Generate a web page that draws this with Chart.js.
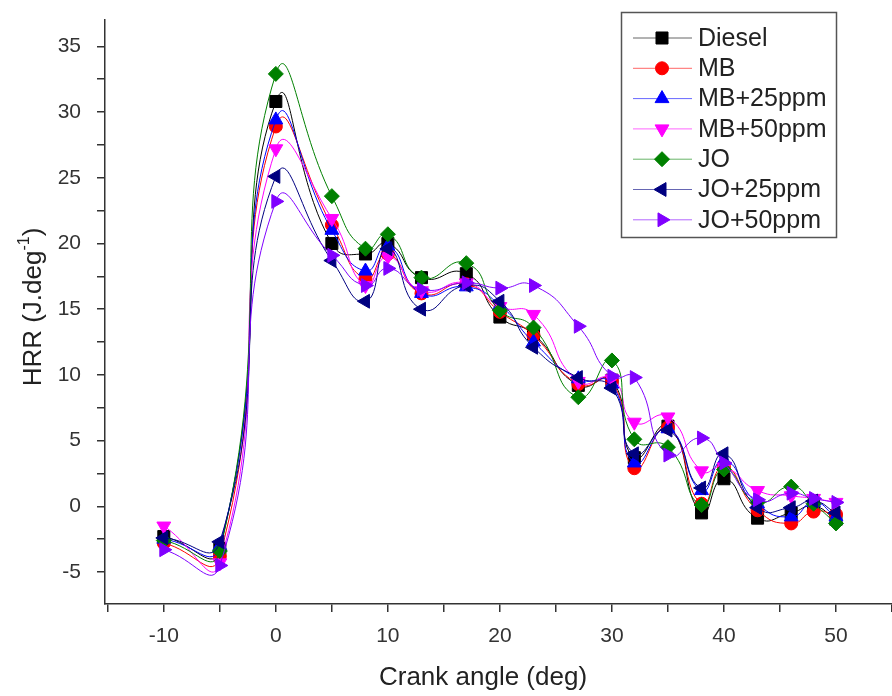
<!DOCTYPE html>
<html>
<head>
<meta charset="utf-8">
<script src="https://cdn.jsdelivr.net/npm/chart.js@4/dist/chart.umd.min.js"></script>
<style>
    html, body { margin: 0; padding: 0; background: #fff; overflow: hidden; }
    #miGrafico { display: block; }
</style>
</head>
<body>
<canvas id="miGrafico" width="892" height="696"></canvas>
<script>
// Datos
const angulos = [-10, -5, 0, 5, 8, 10, 13, 17, 20, 23, 27, 30, 32, 35, 38, 40, 43, 46, 48, 50];

const diesel = [-2.3, -3.2, 30.8, 20.0, 19.2, 20.0, 17.4, 17.7, 14.4, 13.1, 9.2, 9.6, 3.7, 6.1, -0.5, 2.1, -0.9, -0.5, 0.0, -1.0];
const mb     = [-2.8, -3.8, 28.9, 21.4, 17.3, 19.2, 16.2, 16.9, 14.8, 13.0, 9.3, 9.5, 2.9, 6.0, 0.2, 3.0, -0.3, -1.3, -0.4, -0.6];
const mb25   = [-2.5, -3.0, 29.4, 21.0, 17.9, 19.8, 16.2, 16.7, 15.3, 12.5, 9.7, 9.3, 3.3, 5.9, 1.2, 3.5, 0.2, -0.8, 0.3, -0.8];
const mb50   = [-1.5, -4.3, 27.2, 21.9, 16.8, 19.0, 16.4, 17.0, 15.2, 14.6, 9.5, 9.7, 6.4, 6.8, 2.7, 3.0, 1.2, 0.8, 0.6, 0.3];
const jo     = [-2.6, -3.4, 32.9, 23.6, 19.6, 20.7, 17.4, 18.5, 14.9, 13.6, 8.3, 11.1, 5.1, 4.5, 0.1, 2.8, 0.3, 1.5, 0.2, -1.3];
const jo25   = [-2.4, -2.7, 25.1, 18.7, 15.6, 19.6, 15.0, 16.8, 15.6, 12.1, 9.8, 9.0, 4.0, 5.8, 1.4, 4.0, -0.1, -0.1, 0.4, -0.5];
const jo50   = [-3.3, -4.5, 23.2, 19.1, 16.8, 18.1, 16.5, 17.0, 16.6, 16.8, 13.7, 9.9, 9.8, 3.9, 5.2, 3.3, 0.5, 1.0, 0.6, 0.3];

const nombres = ['Diesel', 'MB', 'MB+25ppm', 'MB+50ppm', 'JO', 'JO+25ppm', 'JO+50ppm'];
const valores = [diesel, mb, mb25, mb50, jo, jo25, jo50];

const tituloX = 'Crank angle (deg)';
const tituloY = 'HRR (J.deg';
const tituloYSup = '-1';

// Estilo de cada serie
const colores = ['#000000', '#ff0000', '#0000ff', '#ff00ff', '#008000', '#000080', '#8000ff'];
const marcadores = ['rect', 'circle', 'triangle', 'triangle', 'rectRot', 'triangle', 'triangle'];
const giros = [0, 0, 0, 180, 0, 270, 90];
const radios = [8.5, 6.5, 8, 8, 7.5, 8, 8];

const fuente = '"Liberation Sans", Arial, sans-serif';

// Función para armar los datasets
function crearDatasets() {
    return nombres.map((nombre, i) => ({
        label: nombre,
        data: angulos.map((a, j) => ({ x: a, y: valores[i][j] })),
        borderColor: colores[i],
        backgroundColor: colores[i],
        borderWidth: 1,
        tension: 0.55,
        pointStyle: marcadores[i],
        rotation: giros[i],
        pointRadius: radios[i],
        pointBorderWidth: 1,
        order: nombres.length - i
    }));
}

// Leyenda dibujada dentro del área del gráfico
const pluginLeyenda = {
    id: 'leyenda',
    afterDraw(chart) {
        const ctx = chart.ctx;
        ctx.save();
        ctx.strokeStyle = '#555';
        ctx.lineWidth = 1.5;
        ctx.strokeRect(621.5, 12.5, 215, 225);
        ctx.font = '25px ' + fuente;
        ctx.textBaseline = 'middle';
        ctx.textAlign = 'left';
        chart.data.datasets.forEach((ds, i) => {
            const y = 38 + i * 30.3;
            ctx.strokeStyle = ds.borderColor;
            ctx.globalAlpha = 0.6;
            ctx.lineWidth = 1;
            ctx.beginPath();
            ctx.moveTo(633, y);
            ctx.lineTo(692, y);
            ctx.stroke();
            ctx.globalAlpha = 1;
            ctx.fillStyle = ds.backgroundColor;
            Chart.helpers.drawPoint(ctx, {
                pointStyle: ds.pointStyle,
                rotation: ds.rotation,
                radius: ds.pointRadius,
                borderWidth: 1
            }, 662, y);
            ctx.fillStyle = '#222';
            ctx.fillText(ds.label, 698, y + 1);
        });
        ctx.restore();
    }
};

// Títulos de los ejes (el eje Y lleva superíndice)
const pluginTitulos = {
    id: 'titulos',
    afterDraw(chart) {
        const ctx = chart.ctx;
        ctx.save();
        ctx.fillStyle = '#222';
        ctx.font = '26px ' + fuente;
        ctx.textAlign = 'center';
        ctx.textBaseline = 'middle';
        ctx.fillText(tituloX, 483, 678);

        ctx.translate(32, 307);
        ctx.rotate(-Math.PI / 2);
        ctx.textAlign = 'left';
        ctx.textBaseline = 'alphabetic';
        const cierre = ')';
        const wa = ctx.measureText(tituloY).width;
        const wb = ctx.measureText(cierre).width;
        ctx.font = '16px ' + fuente;
        const ws = ctx.measureText(tituloYSup).width;
        let x = -(wa + ws + wb) / 2;
        ctx.font = '26px ' + fuente;
        ctx.fillText(tituloY, x, 9);
        x += wa;
        ctx.font = '16px ' + fuente;
        ctx.fillText(tituloYSup, x, -3);
        x += ws;
        ctx.font = '26px ' + fuente;
        ctx.fillText(cierre, x, 9);
        ctx.restore();
    }
};

// Función para crear el gráfico
function crearGrafico() {
    const ctx = document.getElementById('miGrafico').getContext('2d');
    return new Chart(ctx, {
        type: 'line',
        data: { datasets: crearDatasets() },
        options: {
            responsive: false,
            animation: false,
            layout: { autoPadding: false, padding: { top: 20, right: 0, left: 0, bottom: 0 } },
            plugins: {
                legend: { display: false },
                tooltip: { enabled: false }
            },
            scales: {
                x: {
                    type: 'linear',
                    min: -15.25,
                    max: 55,
                    afterFit(scale) {
                        scale.height = 92;
                        scale.paddingLeft = 0;
                        scale.paddingRight = 0;
                    },
                    border: { display: true, color: '#333', width: 1.5 },
                    grid: { drawOnChartArea: false, drawTicks: true, tickLength: 8, color: '#333', lineWidth: 1.5 },
                    ticks: {
                        stepSize: 5,
                        includeBounds: false,
                        autoSkip: false,
                        maxRotation: 0,
                        padding: 12,
                        color: '#333',
                        font: { family: fuente, size: 21 },
                        callback: (v) => (v % 10 === 0 ? String(v) : '')
                    }
                },
                y: {
                    type: 'linear',
                    min: -7.43,
                    max: 37,
                    afterFit(scale) {
                        scale.width = 105;
                        scale.paddingTop = 0;
                        scale.paddingBottom = 0;
                    },
                    border: { display: true, color: '#333', width: 1.5 },
                    grid: { drawOnChartArea: false, drawTicks: true, tickLength: 8, color: '#333', lineWidth: 1.5 },
                    ticks: {
                        stepSize: 2.5,
                        includeBounds: false,
                        autoSkip: false,
                        padding: 16,
                        color: '#333',
                        font: { family: fuente, size: 21 },
                        callback: (v) => (v % 5 === 0 ? String(v) : '')
                    }
                }
            }
        },
        plugins: [pluginLeyenda, pluginTitulos]
    });
}

document.addEventListener('DOMContentLoaded', () => {
    crearGrafico();
});
</script>
</body>
</html>
